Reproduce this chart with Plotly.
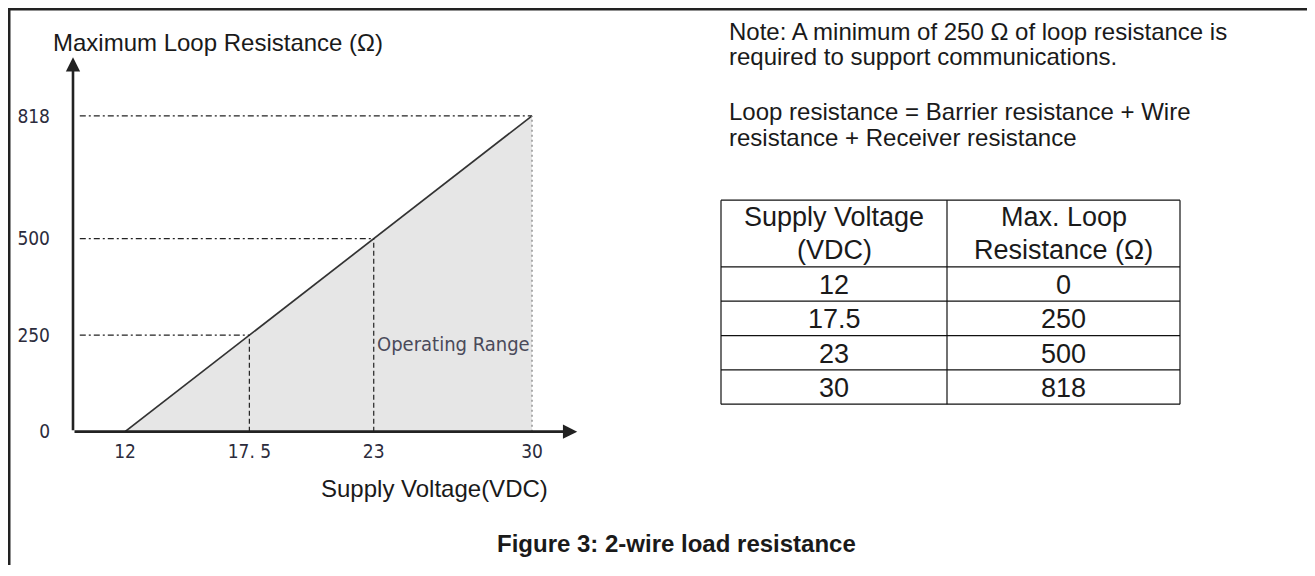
import plotly.graph_objects as go

# ---------------- data ----------------
supply_voltage = [12, 17.5, 23, 30]          # VDC
max_loop_res = [0, 250, 500, 818]            # ohm
x_tick_text = ["12", "17. 5", "23", "30"]
y_tick_vals = [0, 250, 500, 818]
y_tick_text = ["0", "250", "500", "818"]
table_header_left = ["Supply Voltage", "(VDC)"]
table_header_right = ["Max. Loop", "Resistance (Ω)"]
table_col_voltage = ["12", "17.5", "23", "30"]
table_col_res = ["0", "250", "500", "818"]
note_lines = ["Note: A minimum of 250 Ω of loop resistance is",
              "required to support communications."]
formula_lines = ["Loop resistance = Barrier resistance + Wire",
                 "resistance + Receiver resistance"]
y_title = "Maximum Loop Resistance (Ω)"
x_title = "Supply Voltage(VDC)"
region_label = "Operating Range"
caption = "Figure 3: 2-wire load resistance"

# ---------------- layout helpers ----------------
PAGE_W, PAGE_H = 1315, 576
OFF = 8                      # default page body margin
W, H = PAGE_W - OFF, PAGE_H - OFF
def px(x):
    return (x - OFF) / W
def py(y):
    return 1 - (y - OFF) / H

TEXT_FONT = "Liberation Sans, Arial, sans-serif"
NARROW_FONT = "Liberation Sans Narrow, Arial Narrow, DejaVu Sans Condensed, Liberation Sans, sans-serif"

x_min, x_max = 9.7, 32.5
y_min, y_max = 0, 1000
X_AXIS_LEFT = 73
X_AXIS_Y = 440
Y_TOP_REF = 118                       # pixel row of the 818 level
X_PIX_PER_UNIT = 407 / 18
Y_PIX_PER_UNIT = (X_AXIS_Y - Y_TOP_REF) / 818

fig = go.Figure()

# operating range fill
fig.add_trace(go.Scatter(
    x=[supply_voltage[0], supply_voltage[-1], supply_voltage[-1], supply_voltage[0]],
    y=[max_loop_res[0], max_loop_res[-1], max_loop_res[0], max_loop_res[0]],
    fill="toself", fillcolor="#e6e6e6", mode="lines", line=dict(width=0),
    hoverinfo="skip", showlegend=False))

shapes = []
# reference lines
for i, (v, r) in enumerate(zip(supply_voltage, max_loop_res)):
    if r == 0:
        continue
    shapes.append(dict(type="line", xref="x", yref="y", x0=10.0, x1=v, y0=r, y1=r,
                       line=dict(color="#222222", width=1.2, dash="6px,3px,2px,3px")))
    if i == len(supply_voltage) - 1:
        shapes.append(dict(type="line", xref="x", yref="y", x0=v, x1=v, y0=0, y1=r,
                           line=dict(color="#9a9a9a", width=1.6, dash="2px,3px")))
    else:
        shapes.append(dict(type="line", xref="x", yref="y", x0=v, x1=v, y0=0, y1=r,
                           line=dict(color="#222222", width=1.2, dash="5px,3px")))

# diagonal limit line
fig.add_trace(go.Scatter(
    x=[supply_voltage[0], supply_voltage[-1]],
    y=[max_loop_res[0], max_loop_res[-1]],
    mode="lines", line=dict(color="#333333", width=1.7),
    hoverinfo="skip", showlegend=False))

# page frame (top and left), drawn at the figure's edge
shapes.append(dict(type="rect", xref="paper", yref="paper", x0=0, x1=1,
                   y0=1 - 2.5 / H, y1=1, line=dict(width=0), fillcolor="#222222"))
shapes.append(dict(type="rect", xref="paper", yref="paper", x0=0, x1=2.5 / W,
                   y0=0, y1=1, line=dict(width=0), fillcolor="#222222"))

# table grid
t_left, t_div, t_right = 721, 947, 1180
t_top, t_head = 204, 272
row_h = 35
row_lines = [t_top, t_head] + [t_head + row_h * (k + 1) for k in range(len(table_col_voltage))]
for yy in row_lines:
    shapes.append(dict(type="line", xref="paper", yref="paper", x0=px(t_left), x1=px(t_right),
                       y0=py(yy), y1=py(yy), line=dict(color="#111111", width=1.2)))
for xx in (t_left, t_div, t_right):
    shapes.append(dict(type="line", xref="paper", yref="paper", x0=px(xx), x1=px(xx),
                       y0=py(t_top), y1=py(row_lines[-1]), line=dict(color="#111111", width=1.2)))

annotations = []
# axis arrows
annotations.append(dict(x=x_min, y=970, ax=x_min, ay=0, xref="x", yref="y", axref="x", ayref="y",
                        showarrow=True, arrowhead=2, arrowsize=1.1, arrowwidth=2.6,
                        arrowcolor="#222222", text=""))
annotations.append(dict(x=32.0, y=0, ax=x_min, ay=0, xref="x", yref="y", axref="x", ayref="y",
                        showarrow=True, arrowhead=2, arrowsize=1.1, arrowwidth=2.6,
                        arrowcolor="#222222", text=""))

# titles
annotations.append(dict(x=px(51), y=py(43), xref="paper", yref="paper", xanchor="left",
                        yanchor="middle", showarrow=False, text=y_title,
                        font=dict(family=TEXT_FONT, size=24, color="#1a1a1a")))
annotations.append(dict(x=px(434), y=py(X_AXIS_Y + 58), xref="paper", yref="paper",
                        xanchor="center", yanchor="middle", showarrow=False, text=x_title,
                        font=dict(family=TEXT_FONT, size=24, color="#1a1a1a")))
annotations.append(dict(x=23.05, y=226, xref="x", yref="y", xanchor="left", yanchor="middle",
                        showarrow=False, text=region_label,
                        font=dict(family=NARROW_FONT, size=20, color="#4a4a5a")))

# notes
for k, line in enumerate(note_lines):
    annotations.append(dict(x=px(727), y=py(32 + 25 * k), xref="paper", yref="paper",
                            xanchor="left", yanchor="middle", showarrow=False, text=line,
                            font=dict(family=TEXT_FONT, size=24, color="#1a1a1a")))
for k, line in enumerate(formula_lines):
    annotations.append(dict(x=px(727), y=py(114 + 26 * k), xref="paper", yref="paper",
                            xanchor="left", yanchor="middle", showarrow=False, text=line,
                            font=dict(family=TEXT_FONT, size=24, color="#1a1a1a")))

# table text
c_left = (t_left + t_div) / 2
c_right = (t_div + t_right) / 2
for k, (hl, hr) in enumerate(zip(table_header_left, table_header_right)):
    yy = t_top + 17 + 34 * k
    annotations.append(dict(x=px(c_left), y=py(yy), xref="paper", yref="paper", xanchor="center",
                            yanchor="middle", showarrow=False, text=hl,
                            font=dict(family=TEXT_FONT, size=27, color="#1a1a1a")))
    annotations.append(dict(x=px(c_right), y=py(yy), xref="paper", yref="paper", xanchor="center",
                            yanchor="middle", showarrow=False, text=hr,
                            font=dict(family=TEXT_FONT, size=27, color="#1a1a1a")))
for k, (v, r) in enumerate(zip(table_col_voltage, table_col_res)):
    yy = t_head + row_h * k + row_h / 2 + 1
    annotations.append(dict(x=px(c_left), y=py(yy), xref="paper", yref="paper", xanchor="center",
                            yanchor="middle", showarrow=False, text=v,
                            font=dict(family=TEXT_FONT, size=27, color="#1a1a1a")))
    annotations.append(dict(x=px(c_right), y=py(yy), xref="paper", yref="paper", xanchor="center",
                            yanchor="middle", showarrow=False, text=r,
                            font=dict(family=TEXT_FONT, size=27, color="#1a1a1a")))

# caption
annotations.append(dict(x=px(676), y=py(X_AXIS_Y + 114), xref="paper", yref="paper",
                        xanchor="center", yanchor="middle", showarrow=False,
                        text="<b>" + caption + "</b>",
                        font=dict(family=TEXT_FONT, size=24, color="#1a1a1a")))

x_dom = [px(X_AXIS_LEFT), px(X_AXIS_LEFT + (x_max - x_min) * X_PIX_PER_UNIT)]
y_dom = [py(X_AXIS_Y), py(X_AXIS_Y - (y_max - y_min) * Y_PIX_PER_UNIT)]

fig.update_layout(
    width=W, height=H,
    margin=dict(l=0, r=0, t=0, b=0),
    paper_bgcolor="white", plot_bgcolor="white",
    showlegend=False,
    xaxis=dict(domain=x_dom, range=[x_min, x_max],
               showgrid=False, zeroline=False, showline=False, ticks="",
               tickvals=supply_voltage, ticktext=x_tick_text, ticklabelstandoff=6,
               tickfont=dict(family=NARROW_FONT, size=19, color="#2c2c3c"), fixedrange=True),
    yaxis=dict(domain=y_dom, range=[y_min, y_max],
               showgrid=False, zeroline=False, showline=False, ticks="",
               tickvals=y_tick_vals, ticktext=y_tick_text, ticklabelstandoff=22,
               tickfont=dict(family=NARROW_FONT, size=19, color="#2c2c3c"), fixedrange=True),
    shapes=shapes,
    annotations=annotations,
)

fig.write_html("out.html")
